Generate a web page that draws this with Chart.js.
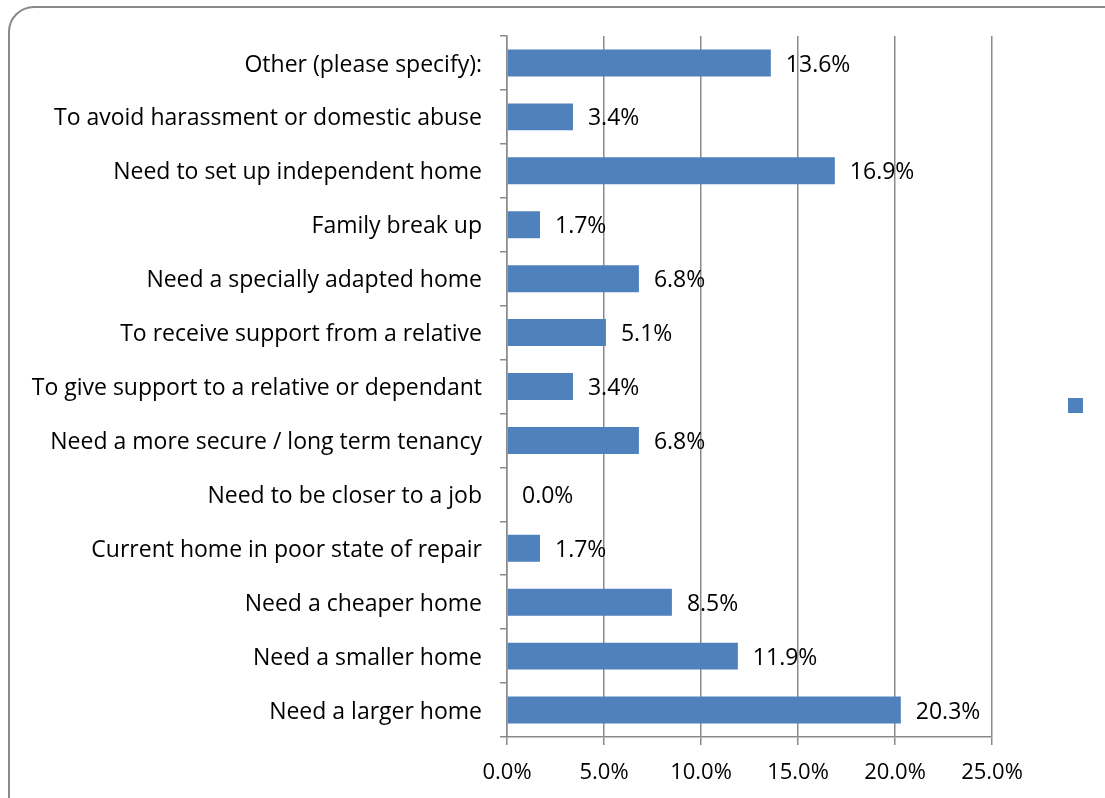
<!DOCTYPE html>
<html>
<head>
<meta charset="utf-8">
<script src="https://cdn.jsdelivr.net/npm/chart.js@4/dist/chart.umd.min.js"></script>
<style>
  body { margin: 0; background: #fff; }
  #wrap { position: relative; width: 1105px; height: 798px; overflow: hidden; }
  #frame {
    position: absolute; left: 8px; top: 6px; width: 1130px; height: 830px;
    border: 2px solid #8a8a8a; border-radius: 26px; box-sizing: border-box;
  }
  #myChart { position: absolute; left: 0; top: 0; }
</style>
</head>
<body>
<div id="wrap">
  <div id="frame"></div>
  <canvas id="myChart" width="1105" height="798"></canvas>
</div>
<script>
const reasons = [
    'Other (please specify):',
    'To avoid harassment or domestic abuse',
    'Need to set up independent home',
    'Family break up',
    'Need a specially adapted home',
    'To receive support from a relative',
    'To give support to a relative or dependant',
    'Need a more secure / long term tenancy',
    'Need to be closer to a job',
    'Current home in poor state of repair',
    'Need a cheaper home',
    'Need a smaller home',
    'Need a larger home'
];
const percentages = [13.6, 3.4, 16.9, 1.7, 6.8, 5.1, 3.4, 6.8, 0.0, 1.7, 8.5, 11.9, 20.3];
const axisMax = 25;
const axisStep = 5;

const barBlue = '#4F81BD';
const lineGrey = '#8a8a8a';
const fontFamily = '"Open Sans", Lato, sans-serif';
const fontSize = 23;

// value text just past the end of each bar
const valueLabels = {
    id: 'valueLabels',
    afterDatasetsDraw(chart) {
        const ctx = chart.ctx;
        const meta = chart.getDatasetMeta(0);
        ctx.save();
        ctx.font = fontSize + 'px ' + fontFamily;
        ctx.fillStyle = '#000';
        ctx.textAlign = 'left';
        ctx.textBaseline = 'middle';
        meta.data.forEach((bar, i) => {
            ctx.fillText(percentages[i].toFixed(1) + '%', bar.x + 15, bar.y + 2);
        });
        ctx.restore();
    }
};

// lone legend swatch on the right (series has no name)
const legendSwatch = {
    id: 'legendSwatch',
    afterDraw(chart) {
        const ctx = chart.ctx;
        ctx.save();
        ctx.fillStyle = barBlue;
        ctx.fillRect(chart.width - 37, 398, 15, 15);
        ctx.restore();
    }
};

new Chart(document.getElementById('myChart'), {
    type: 'bar',
    data: {
        labels: reasons,
        datasets: [{
            data: percentages,
            backgroundColor: barBlue,
            borderWidth: 0,
            categoryPercentage: 1,
            barPercentage: 0.5
        }]
    },
    options: {
        indexAxis: 'y',
        responsive: false,
        animation: false,
        layout: { padding: { top: 36, right: 113, left: 0, bottom: 0 } },
        plugins: {
            legend: { display: false },
            tooltip: { enabled: false }
        },
        scales: {
            x: {
                min: 0,
                max: axisMax,
                ticks: {
                    stepSize: axisStep,
                    color: '#000',
                    padding: 15,
                    font: { family: fontFamily, size: fontSize - 1 },
                    callback: v => v.toFixed(1) + '%'
                },
                grid: { color: lineGrey, lineWidth: 1.5, tickLength: 8 },
                border: { color: lineGrey, width: 1.5 },
                afterFit: scale => { scale.height = 61; }
            },
            y: {
                ticks: {
                    color: '#000',
                    padding: 18,
                    labelOffset: 2,
                    font: { family: fontFamily, size: fontSize }
                },
                grid: {
                    drawOnChartArea: false,
                    offset: true,
                    color: lineGrey,
                    lineWidth: 1.5,
                    tickLength: 7
                },
                border: { color: lineGrey, width: 1.5 },
                afterFit: scale => { scale.width = 507; }
            }
        }
    },
    plugins: [valueLabels, legendSwatch]
});
</script>
</body>
</html>
